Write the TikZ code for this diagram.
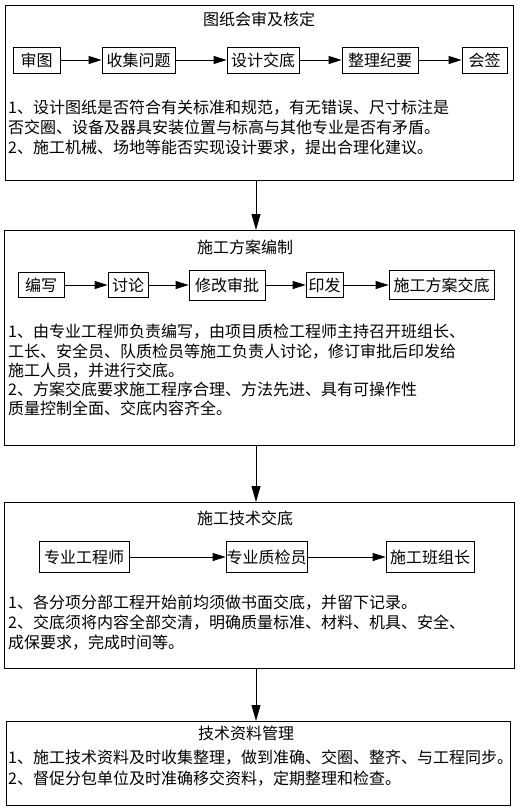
\documentclass[tikz,border=0pt]{standalone}
\usepackage{fontspec}
\setmainfont{Noto Sans CJK SC}
\usetikzlibrary{arrows.meta}
\begin{document}
\begin{tikzpicture}[x=1pt,y=-1pt,
  every node/.style={font=\fontsize{16}{20}\selectfont, inner sep=0pt},
  bigbox/.style={draw, line width=0.8pt, anchor=north west},
  smallbox/.style={draw, line width=0.8pt},
  txt/.style={anchor=base west},
  ttl/.style={anchor=base},
  arr/.style={-{Triangle[length=13pt,width=8pt]}, line width=0.8pt},
  varr/.style={-{Triangle[length=16pt,width=9pt]}, line width=0.8pt}]
\useasboundingbox (0,0) rectangle (521,808);

% ---- box 1
\node[bigbox, minimum width=508pt, minimum height=175pt] (B1) at (5,5) {};
\node[ttl] (T1) at (259,26) {图纸会审及核定};
\node[smallbox, minimum width=47pt, minimum height=26pt] (a1) at (36.5,60) {审图};
\node[smallbox, minimum width=73pt, minimum height=26pt] (a2) at (138.5,60) {收集问题};
\node[smallbox, minimum width=72pt, minimum height=26pt] (a3) at (263,60) {设计交底};
\node[smallbox, minimum width=76pt, minimum height=26pt] (a4) at (380,60) {整理纪要};
\node[smallbox, minimum width=45pt, minimum height=26pt] (a5) at (484.5,60) {会签};
\draw[arr] (a1) -- (a2);
\draw[arr] (a2) -- (a3);
\draw[arr] (a3) -- (a4);
\draw[arr] (a4) -- (a5);
\node[txt] (l11) at (8,113) {1、设计图纸是否符合有关标准和规范，有无错误、尺寸标注是};
\node[txt] (l12) at (8,133) {否交圈、设备及器具安装位置与标高与其他专业是否有矛盾。};
\node[txt] (l13) at (8,153) {2、施工机械、场地等能否实现设计要求，提出合理化建议。};

% ---- box 2
\node[bigbox, minimum width=510pt, minimum height=215pt] (B2) at (4,230) {};
\node[ttl] (T2) at (245,253) {施工方案编制};
\node[smallbox, minimum width=46pt, minimum height=25pt] (b1) at (41,285) {编写};
\node[smallbox, minimum width=40pt, minimum height=25pt] (b2) at (128,285) {讨论};
\node[smallbox, minimum width=76pt, minimum height=30pt] (b3) at (227,285) {修改审批};
\node[smallbox, minimum width=37pt, minimum height=25pt] (b4) at (324.5,285) {印发};
\node[smallbox, minimum width=105pt, minimum height=29pt] (b5) at (441.5,285) {施工方案交底};
\draw[arr] (b1) -- (b2);
\draw[arr] (b2) -- (b3);
\draw[arr] (b3) -- (b4);
\draw[arr] (b4) -- (b5);
\node[txt] (l21) at (8,337) {1、由专业工程师负责编写，由项目质检工程师主持召开班组长、};
\node[txt] (l22) at (8,357) {工长、安全员、队质检员等施工负责人讨论，修订审批后印发给};
\node[txt] (l23) at (8,376) {施工人员，并进行交底。};
\node[txt] (l24) at (8,395) {2、方案交底要求施工程序合理、方法先进、具有可操作性};
\node[txt] (l25) at (8,414) {质量控制全面、交底内容齐全。};

% ---- box 3
\node[bigbox, minimum width=510pt, minimum height=166pt] (B3) at (4,502) {};
\node[ttl] (T3) at (245,524) {施工技术交底};
\node[smallbox, minimum width=90pt, minimum height=31pt] (c1) at (84,557) {专业工程师};
\node[smallbox, minimum width=81pt, minimum height=31pt] (c2) at (266.5,557) {专业质检员};
\node[smallbox, minimum width=88pt, minimum height=31pt] (c3) at (430,557) {施工班组长};
\draw[arr] (c1) -- (c2);
\draw[arr] (c2) -- (c3);
\node[txt] (l31) at (8,608) {1、各分项分部工程开始前均须做书面交底，并留下记录。};
\node[txt] (l32) at (8,628) {2、交底须将内容全部交清，明确质量标准、材料、机具、安全、};
\node[txt] (l33) at (8,648) {成保要求，完成时间等。};

% ---- box 4
\node[bigbox, minimum width=504pt, minimum height=84pt] (B4) at (6,721) {};
\node[ttl] (T4) at (246,739) {技术资料管理};
\node[txt] (l41) at (8,763) {1、施工技术资料及时收集整理，做到准确、交圈、整齐、与工程同步。};
\node[txt] (l42) at (8,784) {2、督促分包单位及时准确移交资料，定期整理和检查。};

% ---- vertical connectors
\coordinate (ax) at (256,0);
\draw[varr] (B1.south -| ax) -- (B2.north -| ax);
\draw[varr] (B2.south -| ax) -- (B3.north -| ax);
\draw[varr] (B3.south -| ax) -- (B4.north -| ax);
\end{tikzpicture}
\end{document}
